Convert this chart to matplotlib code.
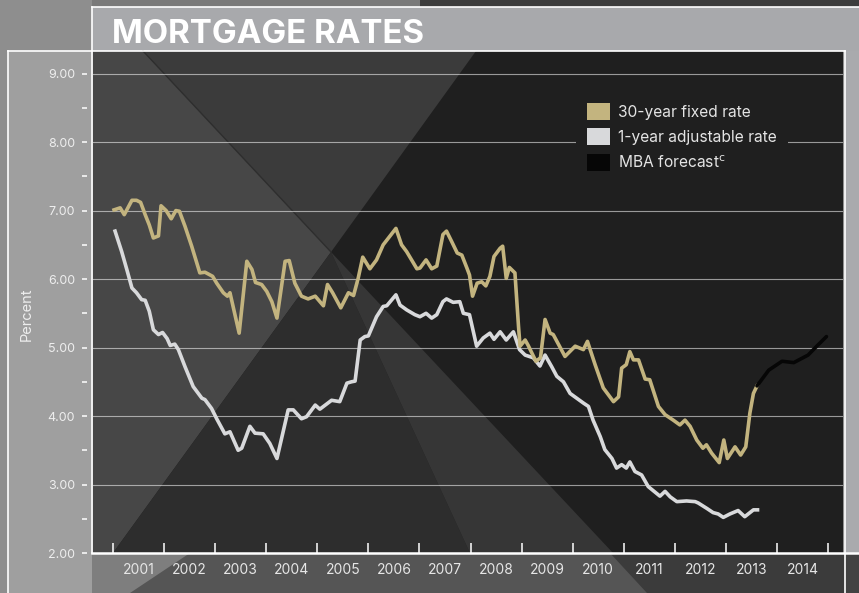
import matplotlib
matplotlib.use("Agg")
import matplotlib.pyplot as plt
from matplotlib.lines import Line2D
from matplotlib.patches import Patch, Polygon

plt.rcParams["font.family"] = ["Inter", "DejaVu Sans"]

# --- data (decimal year, percent) ---
fixed_dates = [
    2001.02, 2001.14, 2001.22, 2001.37, 2001.46, 2001.54, 2001.63, 2001.71, 2001.79, 2001.89, 2001.94,
    2002.04, 2002.14, 2002.23, 2002.30, 2002.41, 2002.54, 2002.70, 2002.80, 2002.95,
    2003.03, 2003.16, 2003.24, 2003.29, 2003.47, 2003.62, 2003.72, 2003.79, 2003.91,
    2004.01, 2004.11, 2004.21, 2004.37, 2004.45, 2004.56, 2004.69, 2004.82, 2004.96,
    2005.12, 2005.20, 2005.30, 2005.46, 2005.61, 2005.71, 2005.80, 2005.89,
    2006.03, 2006.16, 2006.29, 2006.54, 2006.65, 2006.75, 2006.95,
    2007.01, 2007.13, 2007.24, 2007.34, 2007.46, 2007.53, 2007.63, 2007.74, 2007.83, 2007.93, 2007.98,
    2008.04, 2008.13, 2008.22, 2008.30, 2008.38, 2008.46, 2008.58, 2008.63, 2008.70, 2008.76, 2008.87, 2008.94, 2008.97,
    2009.07, 2009.13, 2009.28, 2009.37, 2009.46, 2009.56, 2009.62, 2009.85, 2009.93,
    2010.05, 2010.21, 2010.29, 2010.44, 2010.60, 2010.80, 2010.90, 2010.96,
    2011.05, 2011.12, 2011.19, 2011.29, 2011.42, 2011.51, 2011.68, 2011.81, 2011.97,
    2012.10, 2012.20, 2012.30, 2012.43, 2012.55, 2012.62, 2012.72, 2012.87, 2012.96,
    2013.03, 2013.18, 2013.29, 2013.39, 2013.47, 2013.54, 2013.61,
]
fixed_rates = [
    7.01, 7.04, 6.94, 7.15, 7.15, 7.12, 6.94, 6.79, 6.60, 6.63, 7.07,
    7.00, 6.88, 7.00, 6.99, 6.77, 6.48, 6.09, 6.10, 6.04,
    5.94, 5.80, 5.75, 5.80, 5.21, 6.26, 6.14, 5.95, 5.92,
    5.82, 5.67, 5.43, 6.26, 6.27, 5.94, 5.75, 5.71, 5.75,
    5.61, 5.92, 5.80, 5.58, 5.80, 5.76, 6.01, 6.32,
    6.15, 6.28, 6.50, 6.74, 6.50, 6.40, 6.15,
    6.16, 6.28, 6.15, 6.19, 6.65, 6.70, 6.55, 6.38, 6.35, 6.16, 6.06,
    5.75, 5.94, 5.96, 5.90, 6.04, 6.33, 6.45, 6.48, 6.01, 6.17, 6.09, 5.31, 5.02,
    5.11, 5.03, 4.80, 4.85, 5.41, 5.21, 5.19, 4.87, 4.93,
    5.02, 4.97, 5.09, 4.75, 4.41, 4.21, 4.28, 4.70,
    4.75, 4.94, 4.82, 4.82, 4.54, 4.53, 4.14, 4.02, 3.94,
    3.87, 3.94, 3.85, 3.65, 3.53, 3.58, 3.46, 3.32, 3.65,
    3.38, 3.55, 3.43, 3.55, 4.04, 4.33, 4.44,
]

arm_dates = [
    2001.04, 2001.17, 2001.27, 2001.37, 2001.46, 2001.56, 2001.63, 2001.71, 2001.79, 2001.89, 2001.97,
    2002.06, 2002.12, 2002.21, 2002.28, 2002.41, 2002.57, 2002.74, 2002.80, 2002.93,
    2003.03, 2003.19, 2003.29, 2003.45, 2003.52, 2003.68, 2003.78, 2003.94,
    2004.07, 2004.21, 2004.43, 2004.53, 2004.69, 2004.79, 2004.96,
    2005.05, 2005.28, 2005.44, 2005.58, 2005.67, 2005.74, 2005.84, 2005.93,
    2006.00, 2006.16, 2006.29, 2006.36, 2006.54, 2006.62, 2006.75, 2006.91,
    2007.01, 2007.13, 2007.24, 2007.34, 2007.46, 2007.53, 2007.66, 2007.79, 2007.86, 2007.98,
    2008.12, 2008.25, 2008.38, 2008.46, 2008.58, 2008.70, 2008.84, 2008.96,
    2009.07, 2009.23, 2009.36, 2009.46, 2009.59, 2009.69, 2009.82, 2009.95,
    2010.08, 2010.21, 2010.31, 2010.40, 2010.54, 2010.63, 2010.77, 2010.86, 2010.96,
    2011.05, 2011.12, 2011.22, 2011.35, 2011.48, 2011.71, 2011.81, 2011.91,
    2012.04, 2012.23, 2012.40, 2012.46, 2012.63, 2012.75, 2012.85, 2012.95,
    2013.08, 2013.24, 2013.37, 2013.54, 2013.62,
]
arm_rates = [
    6.70, 6.40, 6.14, 5.87, 5.80, 5.70, 5.69, 5.53, 5.26, 5.19, 5.22,
    5.13, 5.03, 5.05, 4.97, 4.72, 4.43, 4.26, 4.24, 4.11,
    3.96, 3.74, 3.77, 3.50, 3.53, 3.85, 3.75, 3.74,
    3.60, 3.38, 4.09, 4.09, 3.96, 3.99, 4.16,
    4.10, 4.23, 4.21, 4.48, 4.50, 4.51, 5.11, 5.16,
    5.17, 5.45, 5.60, 5.61, 5.77, 5.62, 5.55, 5.48,
    5.45, 5.50, 5.43, 5.48, 5.67, 5.71, 5.66, 5.67, 5.50, 5.48,
    5.02, 5.14, 5.21, 5.12, 5.23, 5.11, 5.23, 4.97,
    4.89, 4.85, 4.73, 4.89, 4.72, 4.58, 4.50, 4.33,
    4.26, 4.19, 4.14, 3.94, 3.70, 3.51, 3.38, 3.24, 3.29,
    3.24, 3.33, 3.19, 3.14, 2.97, 2.83, 2.90, 2.82,
    2.75, 2.76, 2.75, 2.73, 2.65, 2.59, 2.57, 2.52,
    2.57, 2.62, 2.53, 2.63, 2.63,
]

forecast_dates = [2013.61, 2013.84, 2014.10, 2014.33, 2014.61, 2014.78, 2014.97]
forecast_rates = [4.44, 4.67, 4.80, 4.78, 4.89, 5.02, 5.16]

years = list(range(2001, 2016))
year_labels = [str(y) for y in range(2001, 2015)]
y_major = [2, 3, 4, 5, 6, 7, 8, 9]
y_minor = [2.5, 3.5, 4.5, 5.5, 6.5, 7.5, 8.5]

series_labels = ["30-year fixed rate", "1-year adjustable rate", "MBA forecast$^{\\mathrm{c}}$"]
GOLD = "#c3b47f"
SILVER = "#d8d9db"
BLACK = "#060606"
PLOT_BG = "#1f1f1f"

W, H = 859, 593
fig = plt.figure(figsize=(W / 100, H / 100), dpi=100)


def fx(x):
    return x / W


def fy(y):
    return 1 - y / H


def bg(pts, color):
    fig.add_artist(Polygon([(fx(x), fy(y)) for x, y in pts], closed=True,
                           transform=fig.transFigure, facecolor=color,
                           edgecolor="none", zorder=-10))


def rule(x0, y0, x1, y1, lw=1.2, color="white"):
    fig.add_artist(Line2D([fx(x0), fx(x1)], [fy(y0), fy(y1)], color=color,
                          lw=lw, transform=fig.transFigure, zorder=-9 if color != "white" else 5))


# backdrop
bg([(0, 0), (W, 0), (W, H), (0, H)], "#8e8e8e")
bg([(92, 0), (420, 0), (420, 7), (92, 7)], "#7a7a7a")
bg([(420, 0), (W, 0), (W, 7), (420, 7)], "#3c3c3c")
bg([(92, 7), (W, 7), (W, 51), (92, 51)], "#a8a9ac")
bg([(8, 51), (92, 51), (92, H), (8, H)], "#9f9f9f")
bg([(845, 51), (W, 51), (W, 553), (845, 553)], "#a9aaad")
# below the axis
bg([(92, 553), (845, 553), (845, H), (92, H)], "#555555")
bg([(92, 553), (190, 553), (130, H), (92, H)], "#7e7e7e")
bg([(610, 553), (845, 553), (845, H), (647, H)], "#3b3b3b")
bg([(845, 553), (W, 553), (W, H), (845, H)], "#424242")
# plot area facets
bg([(93, 51), (843, 51), (843, 553), (93, 553)], PLOT_BG)
bg([(93, 51), (143, 51), (331, 252), (113, 553), (93, 553)], "#474747")
bg([(143, 51), (476, 51), (331, 252)], "#3b3b3b")
bg([(113, 553), (331, 252), (470, 553)], "#2d2d2d")
bg([(470, 553), (331, 252), (613, 553)], "#363636")
rule(143, 51, 331, 252, lw=1.0, color="#2e2e2e")

ax = fig.add_axes([fx(93), fy(553), fx(843) - fx(93), (553 - 51) / H])
ax.set_facecolor("none")
ax.set_xlim(2000.608, 2015.294)
ax.set_ylim(2.0, 9.33)

ax.plot(arm_dates, arm_rates, color=SILVER, lw=2.6, solid_joinstyle="round", zorder=3)
ax.plot(fixed_dates, fixed_rates, color=GOLD, lw=2.6, solid_joinstyle="round", zorder=4)
ax.plot(forecast_dates, forecast_rates, color=BLACK, lw=2.6, solid_capstyle="round", zorder=4)

for s in ax.spines.values():
    s.set_visible(False)
ax.spines["left"].set_position(("outward", 4.3))

ax.set_yticks(y_major, labels=[f"{v:.2f}" for v in y_major])
ax.set_yticks(y_minor, minor=True)
ax.tick_params(axis="y", which="both", direction="out", length=3.6, width=1.1,
               color="white", labelcolor="#eeeeee", labelsize=9, pad=5)
ax.set_xticks(years, labels=[])
ax.set_xticks([y + 0.5 for y in years[:-1]], labels=year_labels, minor=True)
ax.tick_params(axis="x", which="major", direction="in", length=7.2, width=1.1, color="white")
ax.tick_params(axis="x", which="minor", length=0, pad=7.5, labelcolor="#e6e6e6", labelsize=10)
ax.grid(axis="y", which="major", color="white", alpha=0.55, lw=0.8)

handles = [Patch(facecolor=c, edgecolor="none") for c in (GOLD, SILVER, BLACK)]
ax.legend(handles, series_labels, loc="upper left", bbox_to_anchor=(fx(576), fy(92)),
          bbox_transform=fig.transFigure, frameon=True, facecolor=PLOT_BG,
          edgecolor="none", framealpha=1, fancybox=False, fontsize=11.2,
          labelcolor="#e4e4e4", handlelength=1.5, handleheight=1.3,
          handletextpad=0.5, labelspacing=0.55, borderpad=0.7, borderaxespad=0)

# frame rules
rule(92, 7, W, 7)
rule(92, 7, 92, 553)
rule(8, 51, 845, 51)
rule(845, 51, 845, H)
rule(8, 51, 8, H)
rule(92, 553, W, 553, lw=1.8)

fig.text(fx(112), fy(42.7), "MORTGAGE RATES", color="white", fontsize=23.8,
         fontweight="bold", va="baseline", ha="left")
fig.text(fx(27), fy(314), "Percent", color="#eeeeee", fontsize=10.5,
         rotation=90, ha="center", va="center")

fig.savefig("out.png", dpi=100)
